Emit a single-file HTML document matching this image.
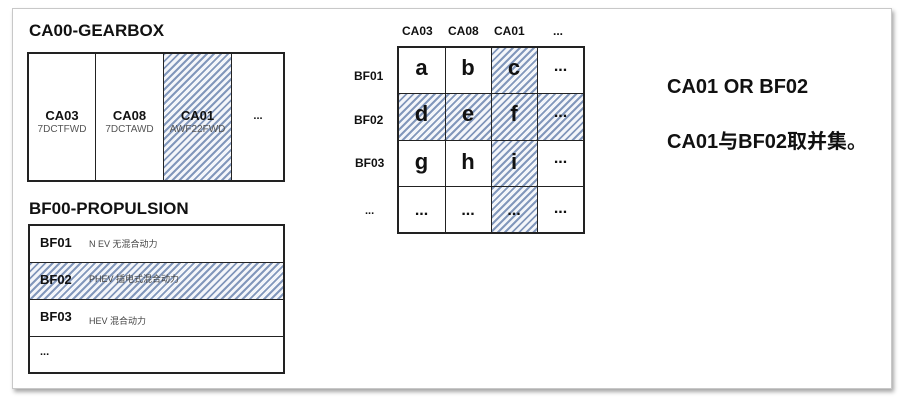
<!DOCTYPE html>
<html><head><meta charset="utf-8"><style>
*{margin:0;padding:0;box-sizing:border-box}
body{width:903px;height:404px;background:#fff;position:relative;overflow:hidden;font-family:"Liberation Sans","Noto Sans CJK SC",sans-serif;color:#111}
.card{position:absolute;left:12px;top:8px;width:880px;height:381px;border:1px solid #c8c8c8;box-shadow:2px 3px 4px rgba(0,0,0,0.35);background:#fff}
.a{position:absolute;white-space:nowrap}
.b{font-weight:bold}
.h{background:repeating-linear-gradient(135deg,#8297bb 0 2px,#f4f6fa 2px 5px)}
.box{position:absolute;border:2px solid #222}
</style></head><body>
<div class="card"></div>
<div class="a b" style="left:29px;top:21px;font-size:17px">CA00-GEARBOX</div>
<div class="box" style="left:27px;top:52px;width:258px;height:130px"></div>
<div class="a h" style="left:163px;top:54px;width:68px;height:126px"></div>
<div class="a" style="left:95px;top:53px;width:1px;height:128px;background:#222"></div>
<div class="a" style="left:163px;top:53px;width:1px;height:128px;background:#222"></div>
<div class="a" style="left:231px;top:53px;width:1px;height:128px;background:#222"></div>
<div class="a b" style="left:29px;top:108px;width:66px;text-align:center;font-size:13px">CA03</div>
<div class="a" style="left:28px;top:124px;width:68px;text-align:center;font-size:10px;color:#555">7DCTFWD</div>
<div class="a b" style="left:96px;top:108px;width:67px;text-align:center;font-size:13px">CA08</div>
<div class="a" style="left:96px;top:124px;width:67px;text-align:center;font-size:10px;color:#555">7DCTAWD</div>
<div class="a b" style="left:164px;top:108px;width:67px;text-align:center;font-size:13px">CA01</div>
<div class="a" style="left:164px;top:124px;width:67px;text-align:center;font-size:10px;color:#555">AWF22FWD</div>
<div class="a b" style="left:232px;top:110px;width:52px;text-align:center;font-size:11px">...</div>

<div class="a b" style="left:29px;top:199px;font-size:17px">BF00-PROPULSION</div>
<div class="box" style="left:28px;top:224px;width:257px;height:150px"></div>
<div class="a h" style="left:30px;top:263px;width:253px;height:36px"></div>
<div class="a" style="left:29px;top:262px;width:255px;height:1px;background:#222"></div>
<div class="a" style="left:29px;top:299px;width:255px;height:1px;background:#222"></div>
<div class="a" style="left:29px;top:336px;width:255px;height:1px;background:#222"></div>
<div class="a b" style="left:40px;top:235px;font-size:13px">BF01</div>
<div class="a" style="left:89px;top:237px;font-size:9px;color:#444">N EV 无混合动力</div>
<div class="a b" style="left:40px;top:272px;font-size:13px">BF02</div>
<div class="a" style="left:89px;top:272px;font-size:9px;color:#444">PHEV 插电式混合动力</div>
<div class="a b" style="left:40px;top:309px;font-size:13px">BF03</div>
<div class="a" style="left:89px;top:314px;font-size:9px;color:#444">HEV 混合动力</div>
<div class="a b" style="left:40px;top:346px;font-size:11px">...</div>

<div class="a b" style="left:402px;top:24px;font-size:12px">CA03</div>
<div class="a b" style="left:448px;top:24px;font-size:12px">CA08</div>
<div class="a b" style="left:494px;top:24px;font-size:12px">CA01</div>
<div class="a b" style="left:553px;top:24px;font-size:12px">...</div>
<div class="a b" style="left:354px;top:69px;font-size:12px">BF01</div>
<div class="a b" style="left:354px;top:113px;font-size:12px">BF02</div>
<div class="a b" style="left:355px;top:156px;font-size:12px">BF03</div>
<div class="a b" style="left:365px;top:205px;font-size:11px">...</div>

<div class="a h" style="left:491px;top:47px;width:46px;height:186px"></div>
<div class="a h" style="left:398px;top:94px;width:186px;height:46px"></div>
<div class="box" style="left:397px;top:46px;width:188px;height:188px;border-width:2px"></div>
<div class="a" style="left:445px;top:47px;width:1px;height:186px;background:#222"></div>
<div class="a" style="left:491px;top:47px;width:1px;height:186px;background:#222"></div>
<div class="a" style="left:537px;top:47px;width:1px;height:186px;background:#222"></div>
<div class="a" style="left:398px;top:93px;width:186px;height:1px;background:#222"></div>
<div class="a" style="left:398px;top:140px;width:186px;height:1px;background:#222"></div>
<div class="a" style="left:398px;top:186px;width:186px;height:1px;background:#222"></div>

<div class="a b" style="left:398px;top:55px;width:47px;text-align:center;font-size:22px">a</div>
<div class="a b" style="left:445px;top:55px;width:46px;text-align:center;font-size:22px">b</div>
<div class="a b" style="left:491px;top:55px;width:46px;text-align:center;font-size:22px">c</div>
<div class="a b" style="left:537px;top:58px;width:47px;text-align:center;font-size:16px">...</div>
<div class="a b" style="left:398px;top:101px;width:47px;text-align:center;font-size:22px">d</div>
<div class="a b" style="left:445px;top:101px;width:46px;text-align:center;font-size:22px">e</div>
<div class="a b" style="left:491px;top:101px;width:46px;text-align:center;font-size:22px">f</div>
<div class="a b" style="left:537px;top:104px;width:47px;text-align:center;font-size:16px">...</div>
<div class="a b" style="left:398px;top:149px;width:47px;text-align:center;font-size:22px">g</div>
<div class="a b" style="left:445px;top:149px;width:46px;text-align:center;font-size:22px">h</div>
<div class="a b" style="left:491px;top:149px;width:46px;text-align:center;font-size:22px">i</div>
<div class="a b" style="left:537px;top:150px;width:47px;text-align:center;font-size:16px">...</div>
<div class="a b" style="left:398px;top:202px;width:47px;text-align:center;font-size:16px">...</div>
<div class="a b" style="left:445px;top:202px;width:46px;text-align:center;font-size:16px">...</div>
<div class="a b" style="left:491px;top:202px;width:46px;text-align:center;font-size:16px">...</div>
<div class="a b" style="left:537px;top:200px;width:47px;text-align:center;font-size:16px">...</div>

<div class="a b" style="left:667px;top:76px;font-size:20px">CA01 OR BF02</div>
<div class="a b" style="left:667px;top:125px;font-size:20px">CA01与BF02取并集。</div>
</body></html>
